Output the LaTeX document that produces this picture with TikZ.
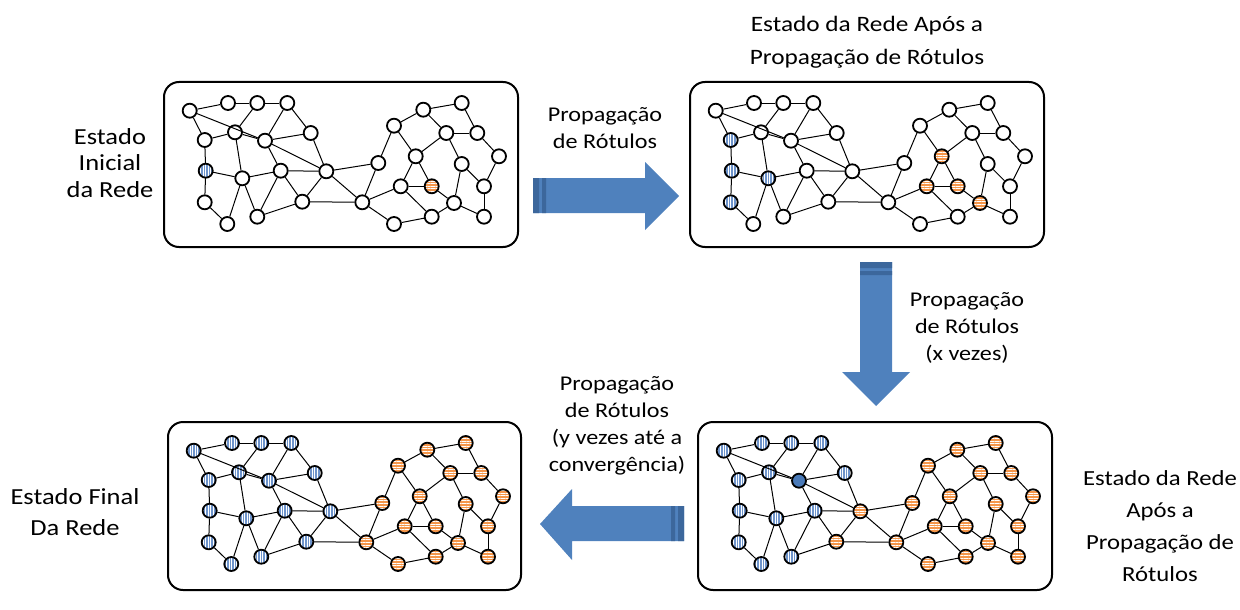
\documentclass[tikz,border=0pt]{standalone}
\usepackage{fontspec}
\setmainfont[FakeStretch=1.15]{Carlito}
\usetikzlibrary{patterns.meta}
\definecolor{netblue}{HTML}{6E94CB}
\definecolor{netorange}{HTML}{F5964A}
\definecolor{netdark}{HTML}{4A7AB8}
\definecolor{arrowblue}{HTML}{4F81BD}
\definecolor{arrowdark}{HTML}{3C679C}
\tikzset{
  netbox/.style={draw, line width=2pt, rounded corners=15pt, inner sep=0pt},
  netnode/.style={circle, draw, line width=1.8pt, minimum size=14pt, inner sep=0pt, fill=white},
  bluenode/.style={preaction={fill=netblue}, pattern={Lines[angle=90,distance=2.6pt,line width=0.6pt]}, pattern color=white},
  orangenode/.style={preaction={fill=netorange}, pattern={Lines[angle=0,distance=2.6pt,line width=0.6pt]}, pattern color=white},
  darknode/.style={fill=netdark},
  netedge/.style={line width=1pt},
  captiontext/.style={align=center, font=\fontsize{21}{27}\selectfont},
}
%Node positions of the network, measured from the top left corner of its box
\newcommand{\netlayout}{l1/26.7/29.7/L, l2/65/22/L, l3/94.3/22/L, l4/124.3/22/L,
  l5/41.7/59/L, l6/72/51.3/L, l7/102/59.7/L, l8/147.7/52/L,
  l9/42.7/89.7/L, l10/79.3/97.3/L, l11/117.7/89.7/L, l12/163.3/90.3/L,
  l13/41.7/121.3/L, l14/64.3/143/L, l15/94.3/135.7/L, l16/139.3/120.7/L,
  r1/199.3/121.3/R, r2/215.3/82/R, r3/231/44.7/R, r4/260.3/28.7/R,
  r5/298.7/22/R, r6/283.3/52/R, r7/314.3/52/R, r8/252.7/75.3/R,
  r9/298.7/83/R, r10/336/75.3/R, r11/237.7/105.3/R, r12/268.7/105.3/R,
  r13/291/122/R, r14/321/105.3/R, r15/231/143/R, r16/268.7/135.7/R, r17/321/135.7/R}
%Links of the network
\newcommand{\netedges}{l1/l2, l2/l3, l3/l4, l1/l5, l1/l7, l5/l6, l5/l9, l6/l3, l6/l7, l6/l10,
  l7/l4, l7/l8, l4/l8, l7/l11, l7/l12, l8/l12, l9/l10, l9/l13, l10/l11, l10/l14,
  l10/l15, l11/l15, l11/l12, l11/l16, l12/l16, l12/r1, l12/r2, l13/l14, l15/l16, l16/r1,
  r1/r2, r1/r11, r1/r15, r2/r3, r3/r4, r3/r8, r4/r5, r4/r6, r6/r7, r5/r7,
  r6/r8, r6/r9, r7/r10, r8/r11, r8/r12, r9/r13, r9/r14, r10/r14, r11/r12, r11/r16,
  r12/r13, r13/r16, r13/r17, r14/r17, r15/r16}
\newcommand{\drawnet}[1]{
  \foreach \n/\px/\py/\s in \netlayout {
    \node[netnode, side \s/.try, col \n/.try] (#1\n) at (\px,\py) {};
  }
  \foreach \a/\b in \netedges {
    \draw[netedge] (#1\a) -- (#1\b);
  }
}
\begin{document}
\begin{tikzpicture}[x=1pt,y=-1pt]
  \useasboundingbox (0,0) rectangle (1240,610);
  %Initial state
  \node[netbox, minimum width=354pt, minimum height=165pt] (boxA) at (341,164.5) {};
  \begin{scope}[shift={(boxA.north west)}, col l9/.style=bluenode, col r12/.style=orangenode]
    \drawnet{A}
  \end{scope}
  %After one propagation
  \node[netbox, minimum width=354pt, minimum height=165pt] (boxB) at (867,164.5) {};
  \begin{scope}[shift={(boxB.north west)}, col l5/.style=bluenode, col l9/.style=bluenode,
      col l13/.style=bluenode, col l10/.style=bluenode, col r8/.style=orangenode,
      col r11/.style=orangenode, col r12/.style=orangenode, col r13/.style=orangenode]
    \drawnet{B}
  \end{scope}
  %After x propagations
  \node[netbox, minimum width=354pt, minimum height=168pt] (boxC) at (875,506) {};
  \begin{scope}[shift={(boxC.north west)}, side L/.style=bluenode, side R/.style=orangenode,
      col l7/.style=darknode, col l12/.style=orangenode, col l16/.style=orangenode]
    \drawnet{C}
  \end{scope}
  %Final state
  \node[netbox, minimum width=353pt, minimum height=168pt] (boxD) at (344.5,506) {};
  \begin{scope}[shift={(boxD.north west)}, side L/.style=bluenode, side R/.style=orangenode]
    \drawnet{D}
  \end{scope}
  %Block arrows
  \fill[arrowblue] (533,178) -- (645,178) -- (645,162) -- (679,196) -- (645,230) -- (645,213) -- (533,213) -- cycle;
  \fill[arrowdark] (533,178) rectangle (539,213) (542,178) rectangle (546,213);
  \fill[arrowblue] (860,262) -- (860,372) -- (842,372) -- (876,406) -- (910,372) -- (892,372) -- (892,262) -- cycle;
  \fill[arrowdark] (860,262) rectangle (892,268) (860,271) rectangle (892,275);
  \fill[arrowblue] (684,506) -- (572,506) -- (572,489) -- (540,524) -- (572,560) -- (572,541) -- (684,541) -- cycle;
  \fill[arrowdark] (678,506) rectangle (684,541) (671,506) rectangle (675,541);
  %Texts
  \node[captiontext, font=\fontsize{23}{26.5}\selectfont] (txtA) at (110,163) {Estado\\Inicial\\da Rede};
  \node[captiontext, font=\fontsize{22}{33}\selectfont] (txtB) at (867,42) {Estado da Rede Após a\\Propagação de Rótulos};
  \node[captiontext] (txtAB) at (605,128) {Propagação\\de Rótulos};
  \node[captiontext] (txtBC) at (967,328) {Propagação\\de Rótulos\\(x vezes)};
  \node[captiontext] (txtCD) at (617,426) {Propagação\\de Rótulos\\(y vezes até a\\convergência)};
  \node[captiontext, font=\fontsize{23}{31}\selectfont] (txtD) at (75,512) {Estado Final\\Da Rede};
  \node[captiontext, font=\fontsize{21.5}{32}\selectfont] (txtC) at (1160,526) {Estado da Rede\\Após a\\Propagação de\\Rótulos};
\end{tikzpicture}
\end{document}
